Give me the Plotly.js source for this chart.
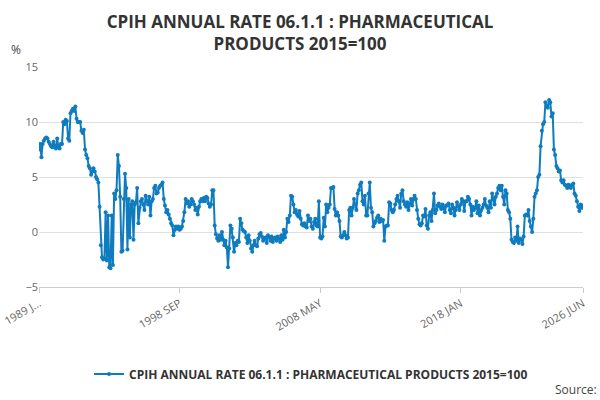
<!DOCTYPE html>
<html>
<head>
<meta charset="utf-8">
<script src="https://cdn.plot.ly/plotly-3.0.1.min.js"></script>
<style>body{margin:0}#chart{width:600px;height:400px}</style>
</head>
<body>
<div id="chart"></div>
<script>
// monthly values, one row per year starting 1989 JAN
var values = [
  7.5,8,6.8,8,8.3,8.5,8.6,8.5,8.2,8,7.8,7.7,
  8.2,7.8,7.6,8.5,7.7,7.6,8,8,10,9.8,10.2,10.1,
  8.5,8.3,10.8,11,11.2,11,11.4,10.3,10,10,10,9.2,
  9,9.3,7.5,7,6.7,6,5.8,5.2,5.5,5.8,5.5,5,
  4.8,4.5,2.3,-1.2,-2.3,-2.5,-2.4,1.8,-2.6,1.5,-3.2,-3.3,
  1.5,-3,3.5,3,3.8,7,6,3.2,-1.8,-1.7,3,5.3,
  4,-1.6,3,-0.5,2.5,2.8,-0.7,2.5,2.7,4,0.8,2.2,
  2.8,3,2.5,2,3.3,2.8,2.5,3.2,1.5,2.8,3,4,
  4.2,3.5,3.6,4,4.2,4.3,4.5,3,2.4,1.8,2,1.6,
  1.2,0.8,0.6,-0.3,0.2,0.5,0.3,0.5,0.2,0.3,0.5,1,
  1.8,3,2.6,2.8,2.3,2.5,3,2.8,2.5,2,2.2,1.6,
  2.3,2.8,3,2.8,3.1,2.8,3.2,3.1,2.6,2.3,2.5,3.8,
  3.8,0.6,-0.2,-0.6,-0.8,-0.3,-0.7,0,-0.7,-1.2,-0.8,-1.4,
  -3.2,-1.5,0.6,0.3,-0.5,-1.8,-1,-1.2,-0.8,-0.9,1.2,0.8,
  0.2,0.1,0,-0.5,-1,-0.3,-0.8,-1.5,-1.8,-1.2,-0.8,-1.2,
  -1.3,-0.6,-0.2,-0.1,-0.4,-0.8,-0.6,-0.5,-1,-0.3,-0.5,-0.8,
  -0.4,-0.9,-0.6,-0.5,-0.8,-0.4,-0.6,-0.9,-0.3,-0.7,0.2,-0.5,
  0,1.2,0.9,1.5,3.3,3.2,2.5,1.8,2,1.6,1.4,1.9,
  1.2,0.7,0.6,0.8,0.5,0.4,1.5,1,1.2,0.5,0.3,0.9,
  1.2,0.6,0.5,2.8,-0.5,-0.6,-0.4,1.3,0.5,2.5,1.8,2.2,
  2.5,4,4,4.1,2.1,1.5,1.8,1.5,1,-0.4,-0.5,-0.3,
  0,-0.3,-0.6,-0.5,2,2.2,1.5,2.2,3,2.5,2,3.5,
  3.8,4.3,4.5,2.8,2.5,3.3,1.5,1.5,3.5,4.5,2.2,1.8,
  0.5,0.8,1,1.3,1.5,0.9,1.2,1,1.1,-0.8,0.5,0.6,
  0.6,2.7,2.6,2,1.8,2,2.5,3,3.3,2.8,2.2,3.5,
  3.8,2.8,2.5,2.3,2.7,2,2.5,3,2.4,3,3.3,3,
  2,1.2,0.7,0.6,0.8,1.5,1.4,2.1,0.6,0.3,1.5,1.8,
  1,2,3.5,1.7,2,2.4,2.6,2.3,2.1,2.5,2.2,1.8,
  2.4,2.4,2.6,2,1.7,2.5,2.2,1.5,2,2.7,2.3,2,
  2.5,3,2.8,1.9,2.8,2.8,3.2,3,2.5,1.5,2.3,2,
  2.2,2.8,1.7,2.4,1.5,2,2.2,2.5,3,2.4,2.2,1.8,
  2.8,2.2,3.5,3,2.5,3.2,3.5,4,4.2,3.8,4.2,3.2,
  2.5,3.8,3.5,2,1.8,1.2,-0.7,-0.9,-1,-0.5,-0.8,0.5,
  -1,-0.6,-0.7,-1.1,-0.4,1.5,1.6,1.5,2,1,0.5,0,
  1.2,3.2,3.5,3.8,5,5.2,7.8,9.2,9.8,10,11.8,11.5,
  11.3,12,11.8,10.5,10.8,7.5,7,6,5.8,5.5,5.6,4.7,
  4.5,4.7,4.3,4.2,4,4.3,4.2,4,4.3,4.4,3.5,3.3,
  2.8,2.3,1.9,2.5,2.2,2.4
];
var monthNames = ["JAN","FEB","MAR","APR","MAY","JUN","JUL","AUG","SEP","OCT","NOV","DEC"];
var startYear = 1989;
var months = values.map(function (v, i) {
  return (startYear + Math.floor(i / 12)) + " " + monthNames[i % 12];
});
var tickLabels = ["1989 JAN", "1998 SEP", "2008 MAY", "2018 JAN", "2026 JUN"];
var seriesName = "CPIH ANNUAL RATE 06.1.1 : PHARMACEUTICAL PRODUCTS 2015=100";

var data = [{
  type: "scatter",
  mode: "lines+markers",
  x: months,
  y: values,
  name: seriesName,
  line: { color: "#0f7cbf", width: 2 },
  marker: { color: "#0f7cbf", size: 4 }
}];

var layout = {
  width: 600,
  height: 400,
  font: { family: "Open Sans, sans-serif", color: "#444" },
  title: { text: "<b>CPIH ANNUAL RATE 06.1.1 : PHARMACEUTICAL<br>PRODUCTS 2015=100</b>", font: { size: 17, color: "#333" }, x: 0.5, y: 0.93, yanchor: "middle" },
  margin: { l: 39, r: 17, t: 67, b: 107 },
  xaxis: {
    type: "category",
    automargin: false,
    range: [0, values.length - 1],
    tickvals: tickLabels,
    ticktext: ["1989 J...", "1998 SEP", "2008 MAY", "2018 JAN", "2026 JUN"],
    tickangle: -30,
    tickfont: { size: 11, color: "#666" },
    showgrid: false,
    showline: true,
    linecolor: "#ccc",
    ticks: "outside",
    ticklen: 5,
    tickcolor: "#ccc"
  },
  yaxis: {
    automargin: false,
    range: [-5, 15],
    tickvals: [-5, 0, 5, 10, 15],
    tickfont: { size: 11, color: "#666" },
    gridcolor: "#e0e0e0",
    zeroline: false
  },
  showlegend: true,
  legend: { orientation: "h", x: 0.5, xanchor: "center", y: -0.33, font: { size: 12, color: "#333" } },
  annotations: [
    { text: "%", xref: "paper", yref: "paper", x: -0.055, y: 1.03, xanchor: "left", yanchor: "bottom", showarrow: false, font: { size: 12, color: "#444" } },
    { text: "Source:", xref: "paper", yref: "paper", x: 1.03, y: -0.42, xanchor: "right", yanchor: "top", showarrow: false, font: { size: 12, color: "#444" } }
  ]
};
layout.legend.font.weight = "bold";

Plotly.newPlot("chart", data, layout, { displayModeBar: false });
</script>
</body>
</html>
